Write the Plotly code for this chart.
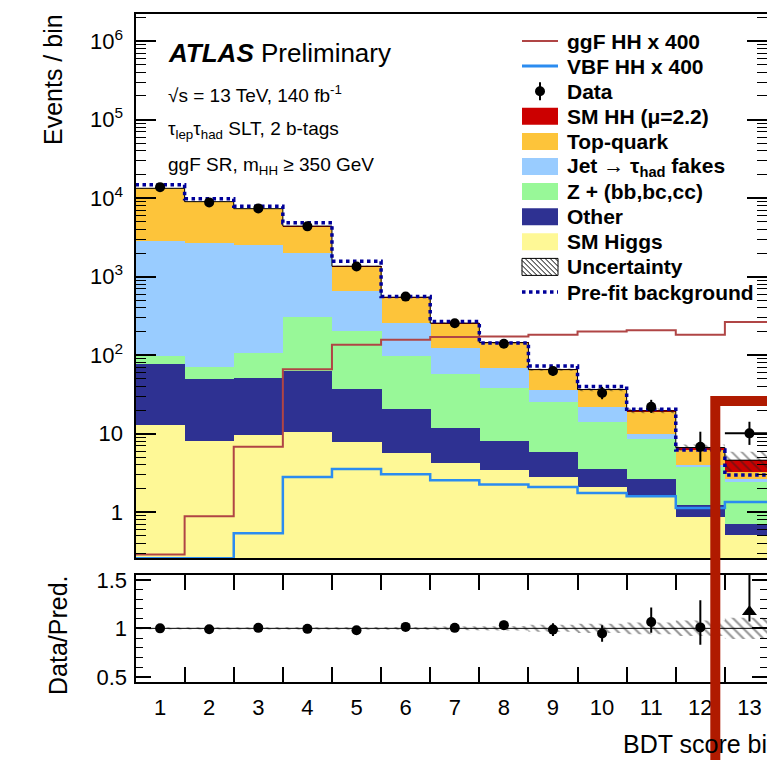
import numpy as np
import plotly.graph_objects as go

# ---------------- data ----------------
bins = list(range(1, 14))
bin_labels = [str(b) for b in bins]

sm_higgs = [12.9, 8.1, 9.5, 10.6, 7.9, 5.6, 4.2, 3.5, 2.8, 2.1, 1.6, 0.87, 0.52]
other = [64, 42, 42, 53, 29, 15, 7.5, 4.6, 3.1, 1.5, 1.05, 0.36, 0.19]
z_hf = [21, 20.5, 54.5, 244, 164, 78, 46, 30, 19.7, 10.6, 5.9, 2.64, 1.72]
jet_fakes = [2733, 2632, 2390, 1707, 463, 159, 66, 30.4, 10.5, 7.9, 1.3, 0.1, 0.25]
top_quark = [10509, 6318, 4849, 2389, 694, 289, 132, 75.5, 29, 14, 9.3, 2.2, 0.58]
sm_hh = [0.3, 0.3, 0.4, 0.5, 0.5, 0.5, 0.4, 0.4, 0.4, 0.4, 0.4, 0.5, 1.34]

data = [13800, 8830, 7400, 4370, 1350, 557, 255, 140, 63, 33, 22, 6.8, 10.1]
data_err_up = [117, 94, 86, 66, 37, 24, 16, 12, 8, 6.5, 5, 3.8, 4.1]
data_err_dn = [117, 94, 86, 66, 37, 24, 16, 12, 8, 5.5, 3.6, 2.4, 2.9]
data_xerr = [0, 0, 0, 0, 0, 0, 0, 0, 0, 0, 0, 0, 0.5]

ggf_hh_x400 = [0.29, 0.89, 6.8, 66, 136, 157, 170, 173, 182, 201, 207, 182, 265]
vbf_hh_x400 = [0.26, 0.26, 0.54, 2.8, 3.55, 3.05, 2.56, 2.26, 2.1, 1.76, 1.6, 1.13, 1.35]
prefit_bkg = [14800, 9830, 7890, 4850, 1570, 560, 268, 143, 73, 39.8, 20.5, 6.2, 2.97]
unc_rel_main = [0.01, 0.01, 0.01, 0.012, 0.015, 0.015, 0.018, 0.023, 0.036, 0.05, 0.07, 0.09, 0.28]

ratio = [1.00, 0.99, 1.005, 0.995, 0.98, 1.015, 1.005, 1.033, 0.987, 0.947, 1.065, 1.01, 1.17]
ratio_err_up = [0.008, 0.01, 0.012, 0.015, 0.02, 0.025, 0.028, 0.045, 0.065, 0.085, 0.15, 0.28, 0.6]
ratio_err_dn = [0.008, 0.01, 0.012, 0.015, 0.02, 0.025, 0.028, 0.045, 0.065, 0.085, 0.11, 0.18, 0.1]
ratio_band = [0.01, 0.01, 0.01, 0.012, 0.015, 0.015, 0.018, 0.023, 0.036, 0.047, 0.06, 0.08, 0.11]

y_tick_vals = [1, 10, 1e2, 1e3, 1e4, 1e5, 1e6]
y_tick_text = ["1", "10", "10<sup>2</sup>", "10<sup>3</sup>", "10<sup>4</sup>",
               "10<sup>5</sup>", "10<sup>6</sup>"]
ratio_tick_vals = [0.5, 1.0, 1.5]
ratio_tick_text = ["0.5", "1", "1.5"]

# ---------------- styling ----------------
W, H = 767, 760
FONT = "Liberation Sans, Arial, Helvetica, sans-serif"
C_HH = "#cc0000"
C_TOP = "#fdc43a"
C_FAKE = "#99ccff"
C_Z = "#98f898"
C_OTHER = "#2e3192"
C_HIGGS = "#fef896"
C_GGF = "#b04545"
C_VBF = "#2b8cf0"
C_PRE = "#00009a"
C_BOX = "#b01a00"


def px(x):
    return x / W


def py(y):
    return 1 - y / H


X_LEFT, X_RIGHT_FULL = 135.5, 774.0
BIN_PX = (X_RIGHT_FULL - X_LEFT) / len(bins)
X_DOM = [px(X_LEFT), 1.0]
X_RANGE = [0.5, 0.5 + (W - X_LEFT) / BIN_PX]
MAIN_DOM = [py(558.3), py(14)]
RATIO_DOM = [py(681.7), py(575)]

edges = np.arange(0.5, len(bins) + 1.0, 1.0)
total = np.array(sm_higgs) + np.array(other) + np.array(z_hf) + np.array(jet_fakes) \
    + np.array(top_quark) + np.array(sm_hh)


def step_xy(vals):
    xs, ys = [], []
    for i, v in enumerate(vals):
        xs += [edges[i], edges[i + 1]]
        ys += [v, v]
    return xs, ys


def band_xy(lo, hi):
    xu, yu = step_xy(hi)
    xl, yl = step_xy(lo)
    return xu + xl[::-1] + [xu[0]], yu + yl[::-1] + [yu[0]]


fig = go.Figure()

stack = [
    ("SM Higgs", sm_higgs, C_HIGGS),
    ("Other", other, C_OTHER),
    ("Z + (bb,bc,cc)", z_hf, C_Z),
    ("Jet fakes", jet_fakes, C_FAKE),
    ("Top-quark", top_quark, C_TOP),
    ("SM HH", sm_hh, C_HH),
]
for name, vals, col in stack:
    fig.add_trace(go.Bar(x=bins, y=vals, width=1.0, name=name,
                         marker=dict(color=col, line=dict(width=0)),
                         xaxis="x", yaxis="y", showlegend=False))

# uncertainty hatch on stack
bx, by = band_xy(list(total * (1 - np.array(unc_rel_main))),
                 list(total * (1 + np.array(unc_rel_main))))
fig.add_trace(go.Scatter(x=bx, y=by, mode="lines", fill="toself",
                         fillcolor="rgba(0,0,0,0)", line=dict(width=0),
                         fillpattern=dict(shape="\\", fgcolor="#222222", bgcolor="rgba(0,0,0,0)",
                                          size=7, solidity=0.25),
                         xaxis="x", yaxis="y", showlegend=False, hoverinfo="skip"))

# total outline
fig.add_trace(go.Scatter(x=list(edges), y=list(total) + [total[-1]], mode="lines",
                         line=dict(color="black", width=1, shape="hv"),
                         xaxis="x", yaxis="y", showlegend=False))

# signals
fig.add_trace(go.Scatter(x=list(edges), y=ggf_hh_x400 + [ggf_hh_x400[-1]], mode="lines",
                         line=dict(color=C_GGF, width=2, shape="hv"),
                         xaxis="x", yaxis="y", showlegend=False))
fig.add_trace(go.Scatter(x=list(edges), y=vbf_hh_x400 + [vbf_hh_x400[-1]], mode="lines",
                         line=dict(color=C_VBF, width=2.5, shape="hv"),
                         xaxis="x", yaxis="y", showlegend=False))
# prefit
fig.add_trace(go.Scatter(x=list(edges), y=prefit_bkg + [prefit_bkg[-1]], mode="lines",
                         line=dict(color=C_PRE, width=3.5, shape="hv", dash="dot"),
                         xaxis="x", yaxis="y", showlegend=False))
# data
fig.add_trace(go.Scatter(x=bins, y=data, mode="markers",
                         marker=dict(color="black", size=10, opacity=1),
                         error_y=dict(type="data", symmetric=False, array=data_err_up,
                                      arrayminus=data_err_dn, color="black", thickness=2, width=0),
                         error_x=dict(type="data", array=data_xerr, color="black",
                                      thickness=2, width=0),
                         xaxis="x", yaxis="y", showlegend=False))

# ---------------- ratio panel ----------------
rb = np.array(ratio_band)
rx, ry = band_xy(list(1 - rb), list(1 + rb))
fig.add_trace(go.Scatter(x=rx, y=ry, mode="lines", fill="toself",
                         fillcolor="rgba(0,0,0,0)", line=dict(width=0),
                         fillpattern=dict(shape="\\", fgcolor="#2a2a2a", bgcolor="rgba(0,0,0,0)",
                                          size=7, solidity=0.3),
                         xaxis="x2", yaxis="y2", showlegend=False, hoverinfo="skip"))
fig.add_trace(go.Scatter(x=[edges[0], edges[-1]], y=[1, 1], mode="lines",
                         line=dict(color="black", width=1),
                         xaxis="x2", yaxis="y2", showlegend=False))
ratio_symbols = ["circle"] * (len(bins) - 1) + ["triangle-up"]
ratio_sizes = [10] * (len(bins) - 1) + [13]
fig.add_trace(go.Scatter(x=bins, y=ratio, mode="markers",
                         marker=dict(color="black", size=ratio_sizes, symbol=ratio_symbols,
                                     opacity=1, line=dict(width=0)),
                         error_y=dict(type="data", symmetric=False, array=ratio_err_up,
                                      arrayminus=ratio_err_dn, color="black", thickness=2, width=0),
                         xaxis="x2", yaxis="y2", showlegend=False))

# ---------------- axes ----------------
main_minor = [k * 10.0 ** e for e in range(-1, 7) for k in range(2, 10)]
ratio_minor = [round(v, 2) for v in np.arange(0.5, 1.51, 0.1)]

axis_common = dict(showgrid=False, zeroline=False, showline=True, linecolor="black",
                   linewidth=2, tickcolor="black", tickwidth=1.5, automargin=False)

fig.update_layout(
    width=W, height=H,
    margin=dict(l=0, r=0, t=0, b=0, pad=0),
    paper_bgcolor="white", plot_bgcolor="white",
    barmode="stack", bargap=0,
    font=dict(family=FONT, color="black"),
    showlegend=False,
    xaxis=dict(domain=X_DOM, range=X_RANGE, anchor="y", showticklabels=False,
               ticks="", mirror=True, **axis_common),
    xaxis3=dict(overlaying="x", anchor="y", range=[0, (X_RANGE[1] - 0.5) / len(bins)],
                showticklabels=False, showgrid=False, zeroline=False, showline=False,
                automargin=False,
                ticks="inside", ticklen=12, tickwidth=1.5, tickcolor="black",
                tickmode="linear", tick0=0, dtick=0.1, mirror="ticks",
                minor=dict(ticks="inside", ticklen=6, tickmode="linear", tick0=0,
                           dtick=0.025, tickcolor="black", tickwidth=1.2)),
    yaxis=dict(domain=MAIN_DOM, type="log", anchor="x",
               range=[np.log10(0.259), 6.345],
               tickmode="array", tickvals=y_tick_vals, ticktext=y_tick_text,
               ticks="inside", ticklen=20, mirror="ticks",
               tickfont=dict(size=22, family=FONT), ticklabelstandoff=6,
               minor=dict(ticks="inside", ticklen=10, tickvals=main_minor,
                          tickcolor="black", tickwidth=1.2),
               **axis_common),
    xaxis2=dict(domain=X_DOM, range=X_RANGE, anchor="y2",
                tickmode="array", tickvals=bins, ticktext=bin_labels, ticks="",
                tickfont=dict(size=22, family=FONT), ticklabelstandoff=5,
                mirror="ticks",
                minor=dict(ticks="inside", ticklen=15, tickvals=list(edges[1:-1]),
                           tickcolor="black", tickwidth=1.5),
                **axis_common),
    yaxis2=dict(domain=RATIO_DOM, range=[0.45, 1.55], anchor="x2",
                tickmode="array", tickvals=ratio_tick_vals, ticktext=ratio_tick_text,
                ticks="inside", ticklen=15, mirror="ticks",
                tickfont=dict(size=22, family=FONT), ticklabelstandoff=2,
                minor=dict(ticks="inside", ticklen=7, tickvals=ratio_minor,
                           tickcolor="black", tickwidth=1.2),
                **axis_common),
)

# ---------------- text ----------------
annotations = []


def add_text(text, x, y, size, xanchor="left", yanchor="middle", angle=0, bold=False):
    annotations.append(dict(text=("<b>" + text + "</b>") if bold else text,
                            x=px(x), y=py(y), xref="paper", yref="paper",
                            xanchor=xanchor, yanchor=yanchor, textangle=angle,
                            showarrow=False, font=dict(size=size, family=FONT, color="black")))


add_text("<b><i>ATLAS</i></b> Preliminary", 166, 53, 26)
add_text("√s = 13 TeV, 140 fb<sup>-1</sup>", 166, 94, 19)
add_text("τ<sub>lep</sub>τ<sub>had</sub> SLT, 2 b-tags", 166, 130, 19)
add_text("ggF SR, m<sub>HH</sub> ≥ 350 GeV", 166, 166, 19)
add_text("Events / bin", 53, 80, 25, xanchor="center", angle=-90)
add_text("Data/Pred.", 58, 635, 25, xanchor="center", angle=-90)
add_text("BDT score bin", 783, 744, 25, xanchor="right")

# ---------------- legend (manual) ----------------
shapes = []
LX0, LX1 = 522, 558
row_y = [41 + 25.1 * i for i in range(11)]
legend_text = ["ggF HH x 400", "VBF HH x 400", "Data", "SM HH (μ=2.2)", "Top-quark",
               "Jet → τ<sub>had</sub> fakes", "Z + (bb,bc,cc)", "Other", "SM Higgs",
               "Uncertainty", "Pre-fit background"]
for t, yy in zip(legend_text, row_y):
    add_text(t, 565, yy, 21, bold=True)


def hline(y, col, w, dash="solid"):
    shapes.append(dict(type="line", xref="paper", yref="paper", x0=px(LX0), x1=px(LX1),
                       y0=py(y), y1=py(y), line=dict(color=col, width=w, dash=dash)))


hline(row_y[0], C_GGF, 2)
hline(row_y[1], C_VBF, 3)
# data marker
cx = (LX0 + LX1) / 2
shapes.append(dict(type="line", xref="paper", yref="paper", x0=px(cx), x1=px(cx),
                   y0=py(row_y[2] - 9), y1=py(row_y[2] + 9), line=dict(color="black", width=2)))
shapes.append(dict(type="circle", xref="paper", yref="paper", x0=px(cx - 5), x1=px(cx + 5),
                   y0=py(row_y[2] - 5), y1=py(row_y[2] + 5), fillcolor="black",
                   line=dict(color="black", width=0)))
for i, col in zip(range(3, 9), [C_HH, C_TOP, C_FAKE, C_Z, C_OTHER, C_HIGGS]):
    shapes.append(dict(type="rect", xref="paper", yref="paper", x0=px(LX0), x1=px(LX1),
                       y0=py(row_y[i] - 8.5), y1=py(row_y[i] + 8.5), fillcolor=col,
                       line=dict(width=0)))
# uncertainty swatch with hatching
uy0, uy1 = row_y[9] - 8.5, row_y[9] + 8.5
shapes.append(dict(type="rect", xref="paper", yref="paper", x0=px(LX0), x1=px(LX1),
                   y0=py(uy0), y1=py(uy1), fillcolor="white",
                   line=dict(color="black", width=1)))
segs = []
hgt = uy1 - uy0
for s in np.arange(LX0 - hgt, LX1, 5.0):
    xa, ya = s, uy0
    xb, yb = s + hgt, uy1
    if xa < LX0:
        ya = uy0 + (LX0 - xa)
        xa = LX0
    if xb > LX1:
        yb = uy1 - (xb - LX1)
        xb = LX1
    if xb > xa:
        segs.append("M%.5f,%.5f L%.5f,%.5f" % (px(xa), py(ya), px(xb), py(yb)))
shapes.append(dict(type="path", xref="paper", yref="paper", path=" ".join(segs),
                   line=dict(color="black", width=1)))
hline(row_y[10], C_PRE, 3.5, dash="dot")

# highlight box
shapes.append(dict(type="rect", xref="paper", yref="paper", x0=px(715.3), x1=1.1,
                   y0=py(401), y1=-0.1, line=dict(color=C_BOX, width=10),
                   fillcolor="rgba(0,0,0,0)", layer="above"))

fig.update_layout(annotations=annotations, shapes=shapes)

fig.write_html("out.html", config={"displayModeBar": False},
               post_script="document.body.style.margin='0';document.body.style.overflow='hidden';")
